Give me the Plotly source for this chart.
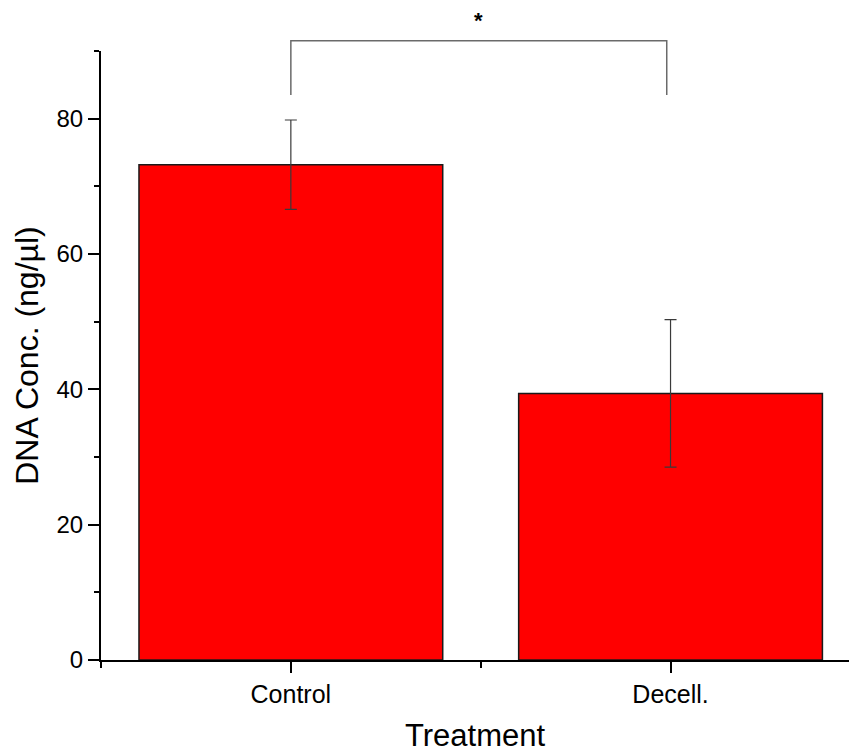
import plotly.graph_objects as go

# Data
categories = ["Control", "Decell."]
dna_conc = [73.2, 39.4]          # mean DNA concentration (ng/µl)
dna_err = [6.6, 10.9]            # error (±)
positions = [0, 1]

# Significance bracket between the two groups
bracket_top = 91.5
bracket_leg_bottom = 83.5
sig_label = "*"

Y_MAX = 90
X_RANGE = [-0.5, 1.47]
FONT = "Liberation Sans, Arial, sans-serif"


def x_dom(x):
    return (x - X_RANGE[0]) / (X_RANGE[1] - X_RANGE[0])


def y_dom(y):
    return y / Y_MAX


fig = go.Figure()
fig.add_trace(go.Bar(
    x=positions,
    y=dna_conc,
    width=0.8,
    marker=dict(color="#ff0000", line=dict(color="#1a1a1a", width=1.5)),
    error_y=dict(type="data", array=dna_err, visible=True,
                 color="#3a3a3a", thickness=1.2, width=6),
    showlegend=False,
))

# bracket
x0, x1 = x_dom(positions[0]), x_dom(positions[1] - 0.01)
yt, yb = y_dom(bracket_top), y_dom(bracket_leg_bottom)
line_style = dict(color="#6a6a6a", width=1.5)
fig.add_shape(type="path", xref="x domain", yref="paper",
              path=f"M {x0} {yb} L {x0} {yt} L {x1} {yt} L {x1} {yb}",
              line=line_style)
fig.add_annotation(x=(x0 + x1) / 2, y=y_dom(94.5), xref="x domain", yref="paper",
                   text=f"<b>{sig_label}</b>", showarrow=False,
                   font=dict(size=22, color="black", family=FONT),
                   xanchor="center", yanchor="middle")

fig.update_layout(
    width=849, height=753,
    margin=dict(l=101, r=0, t=51, b=93),
    plot_bgcolor="white", paper_bgcolor="white",
    font=dict(family=FONT, color="black"),
    bargap=0.2,
)
fig.update_xaxes(
    range=X_RANGE,
    tickvals=positions, ticktext=categories,
    showline=True, linecolor="black", linewidth=2,
    ticks="outside", ticklen=11, tickwidth=2, tickcolor="black",
    tickfont=dict(size=25, family=FONT),
    minor=dict(tick0=-0.5, dtick=1, ticks="outside", ticklen=6,
               tickwidth=2, tickcolor="black"),
    showgrid=False, zeroline=False,
    title=dict(text="Treatment", font=dict(size=31, family=FONT), standoff=17),
)
fig.update_yaxes(
    range=[0, Y_MAX],
    tickvals=[0, 20, 40, 60, 80],
    showline=True, linecolor="black", linewidth=2,
    ticks="outside", ticklen=11, tickwidth=2, tickcolor="black",
    tickfont=dict(size=24, family=FONT),
    minor=dict(tick0=0, dtick=10, ticks="outside", ticklen=5,
               tickwidth=2, tickcolor="black"),
    showgrid=False, zeroline=False,
    title=dict(text="DNA Conc. (ng/µl)", font=dict(size=32, family=FONT), standoff=8),
)

fig.write_html("out.html")
